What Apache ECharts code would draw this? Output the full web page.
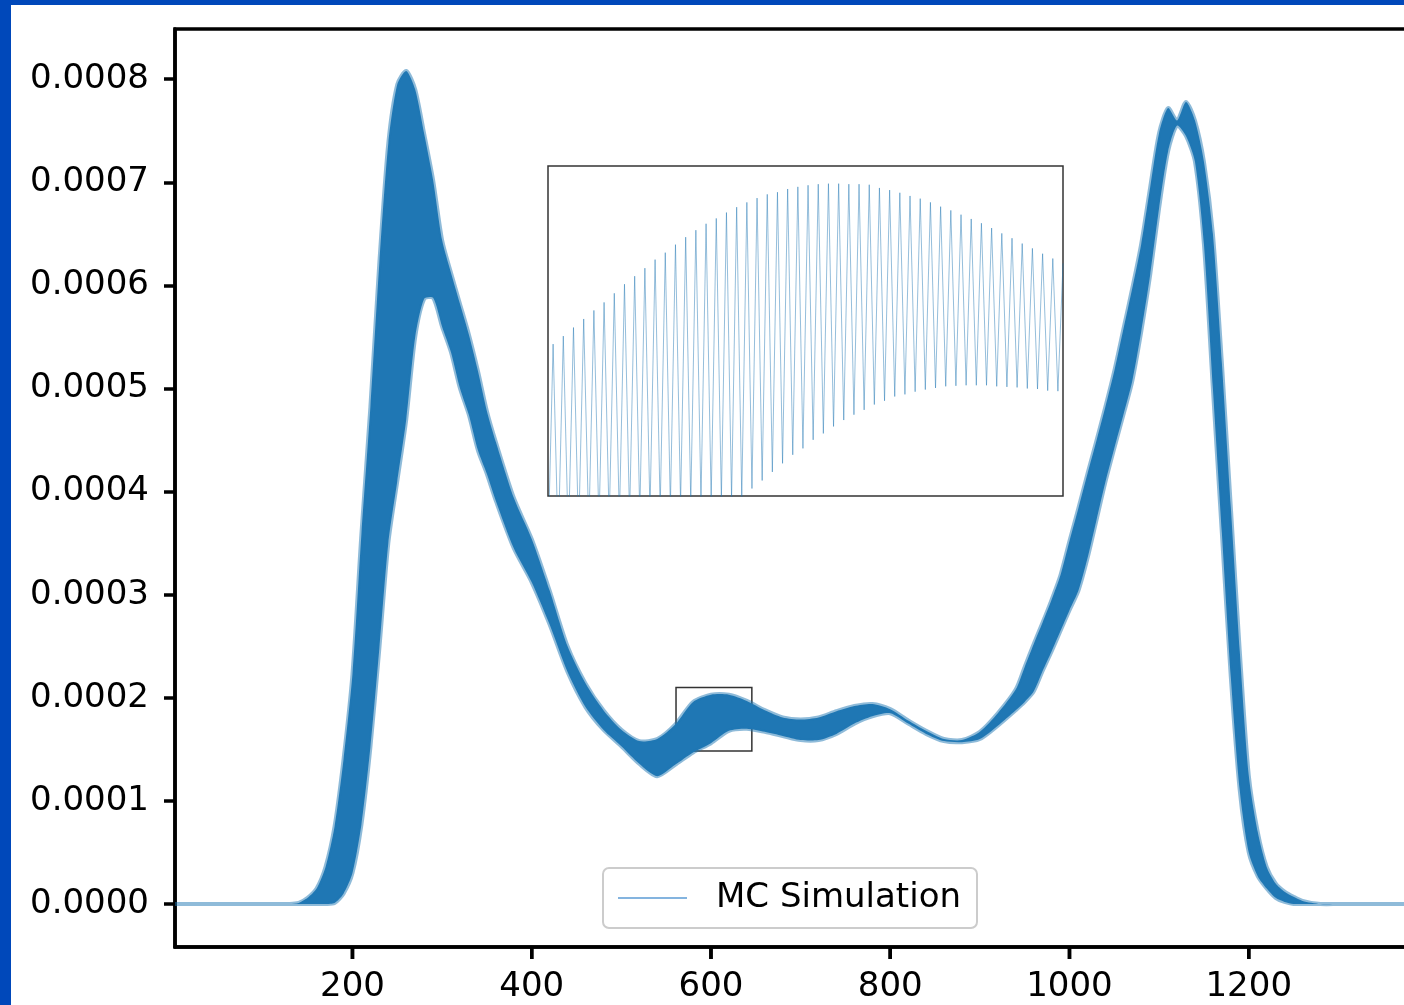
<!DOCTYPE html>
<html>
<head>
<meta charset="utf-8">
<title>MC Simulation</title>
<script src="https://cdn.jsdelivr.net/npm/echarts@6/dist/echarts.min.js"></script>
<style>
	html, body {margin: 0; padding: 0; width: 1404px; height: 1005px; overflow: hidden; background: #0048ba;}
	#chart {position: absolute; left: 11px; top: 5px; width: 1417px; height: 1000px; background: #fff;}
</style>
</head>
<body>
<div id="chart"></div>
<script>
// sample positions along x
var xs = [2, 100, 130, 140, 150, 160, 170, 180, 190, 200, 210, 220, 230, 240, 250, 260, 270, 280, 290, 300,
	310, 320, 330, 340, 350, 360, 380, 400, 420, 440, 460, 480, 500, 520, 540, 560, 580, 600, 620, 640,
	660, 680, 700, 720, 740, 760, 780, 800, 820, 840, 860, 880, 900, 920, 940, 950, 960, 970, 980, 990,
	1000, 1010, 1020, 1030, 1040, 1050, 1060, 1070, 1080, 1090, 1100, 1110, 1120, 1130, 1140, 1150, 1160, 1170, 1180, 1190,
	1200, 1210, 1220, 1230, 1240, 1250, 1260, 1280, 1300, 1400];
// upper / lower edge of the oscillating MC curve (units of 1e-4)
var upper = [0, 0, 0, 0.01, 0.06, 0.15, 0.36, 0.75, 1.40, 2.23, 3.59, 4.82, 6.22, 7.38, 7.95, 8.08, 7.90, 7.47, 7.02, 6.44,
	6.12, 5.82, 5.52, 5.17, 4.78, 4.48, 3.94, 3.54, 3.04, 2.50, 2.14, 1.88, 1.69, 1.58, 1.60, 1.74, 1.96, 2.03, 2.03, 1.97,
	1.88, 1.81, 1.79, 1.81, 1.87, 1.92, 1.94, 1.89, 1.78, 1.68, 1.60, 1.59, 1.67, 1.85, 2.08, 2.30, 2.52, 2.73, 2.95, 3.19,
	3.52, 3.84, 4.17, 4.49, 4.82, 5.17, 5.57, 5.97, 6.40, 6.95, 7.48, 7.72, 7.60, 7.78, 7.60, 7.20, 6.50, 5.25, 3.85, 2.45,
	1.25, 0.70, 0.36, 0.20, 0.12, 0.07, 0.03, 0, 0, 0];
var lower = [0, 0, 0, 0, 0, 0, 0, 0.01, 0.10, 0.30, 0.77, 1.52, 2.48, 3.50, 4.10, 4.70, 5.50, 5.87, 5.88, 5.60,
	5.35, 5.00, 4.74, 4.40, 4.17, 3.91, 3.45, 3.12, 2.71, 2.25, 1.91, 1.69, 1.53, 1.36, 1.24, 1.35, 1.47, 1.56, 1.68, 1.70,
	1.67, 1.63, 1.59, 1.59, 1.65, 1.75, 1.82, 1.85, 1.75, 1.65, 1.58, 1.57, 1.60, 1.73, 1.88, 1.96, 2.06, 2.26, 2.45, 2.65,
	2.85, 3.04, 3.35, 3.72, 4.09, 4.42, 4.74, 5.07, 5.55, 6.10, 6.75, 7.30, 7.55, 7.45, 7.20, 6.40, 5.00, 3.60, 2.20, 1.10,
	0.50, 0.27, 0.15, 0.06, 0.02, 0, 0, 0, 0, 0];

// zoomed region (x range, y range in 1e-4)
var zoomX = [561, 645.6];
var zoomY = [1.484, 2.101];
// the zig-zag inside that region, alternating trough / peak
var insetVals = [1.38,
	1.768, 1.390, 1.783, 1.400, 1.799, 1.410, 1.815, 1.420, 1.831, 1.430, 1.846, 1.435, 1.863, 1.440, 1.880, 1.445,
	1.895, 1.450, 1.910, 1.455, 1.926, 1.460, 1.939, 1.465, 1.954, 1.470, 1.968, 1.472, 1.981, 1.474, 1.993, 1.476,
	2.003, 1.478, 2.014, 1.480, 2.024, 1.482, 2.033, 1.498, 2.041, 1.513, 2.048, 1.529, 2.052, 1.545, 2.058, 1.561,
	2.062, 1.573, 2.065, 1.589, 2.067, 1.601, 2.068, 1.614, 2.068, 1.626, 2.067, 1.636, 2.067, 1.645, 2.066, 1.655,
	2.060, 1.662, 2.056, 1.670, 2.051, 1.674, 2.045, 1.679, 2.040, 1.683, 2.033, 1.686, 2.025, 1.689, 2.018, 1.690,
	2.010, 1.691, 2.002, 1.691, 1.994, 1.691, 1.985, 1.689, 1.975, 1.688, 1.966, 1.687, 1.956, 1.685, 1.947, 1.684,
	1.937, 1.681, 1.928, 1.680, 1.919];

var yTicks = [0, 1, 2, 3, 4, 5, 6, 7, 8];
var xTicks = [200, 400, 600, 800, 1000, 1200];
var yMin = -0.417, yMax = 8.487;

var font = 'DejaVu Sans';
var blue = '#1f77b4';

var insetCats = insetVals.map(function(v, i){ return String(i); });

// band between upper and lower edge, drawn as one polygon through the axes
function renderBand(params, api){
	var pts = [], i;
	for (i = 0; i < xs.length; i++) pts.push(api.coord([xs[i], upper[i]]));
	for (i = xs.length - 1; i >= 0; i--) pts.push(api.coord([xs[i], lower[i]]));
	return {
		type: 'polygon',
		shape: {points: pts, smooth: 0.25},
		style: {fill: blue, stroke: 'rgba(31,119,180,0.5)', lineWidth: 4}
	};
}

var e = echarts.init(document.getElementById('chart'));
var u = {
	animation: false,
	grid: [{
		left: 164, top: 24, right: 0, bottom: 58,
		show: true, borderColor: '#000', borderWidth: 3.5, backgroundColor: '#fff'
	}, {
		left: 537, top: 161, width: 515, height: 330,
		show: true, borderColor: '#333', borderWidth: 1.5, backgroundColor: '#fff', z: 5
	}],
	legend: {
		left: 592, top: 863,
		data: [{name: 'MC Simulation', icon: 'rect', itemStyle: {color: '#5b9bd5'}}],
		itemWidth: 69, itemHeight: 1.5,
		padding: [12, 16, 12, 15],
		borderColor: '#cccccc', borderWidth: 2, borderRadius: 6,
		backgroundColor: '#fff',
		textStyle: {fontFamily: font, fontSize: 34, color: '#000', lineHeight: 36, padding: [0, 0, 0, 24]}
	},
	xAxis: [{
		type: 'value', gridIndex: 0, min: 2, max: 1400, position: 'bottom',
		splitLine: {show: false},
		axisLine: {show: true, onZero: false, lineStyle: {color: '#000', width: 3.5}},
		axisTick: {show: false},
		axisLabel: {
			margin: 0, customValues: xTicks,
			// tick mark drawn as the first line of the label, number under it
			formatter: function(v){ return '{t| }\n{n|' + v + '}'; },
			rich: {
				t: {width: 3.5, height: 12, backgroundColor: '#000', lineHeight: 12, fontSize: 1},
				n: {fontFamily: font, fontSize: 34, color: '#000', lineHeight: 56}
			}
		}
	}, {
		type: 'category', gridIndex: 1, data: insetCats, boundaryGap: false, show: false
	}],
	yAxis: [{
		type: 'value', gridIndex: 0, min: yMin, max: yMax,
		splitLine: {show: false},
		axisLine: {show: true, onZero: false, lineStyle: {color: '#000', width: 3.5}},
		axisTick: {show: true, inside: false, length: 11, lineStyle: {color: '#000', width: 3.5}, customValues: yTicks},
		axisLabel: {
			color: '#000', fontFamily: font, fontSize: 34, margin: 26, customValues: yTicks,
			formatter: function(v){ return (v / 10000).toFixed(4); }
		}
	}, {
		type: 'value', gridIndex: 1, min: zoomY[0], max: zoomY[1], show: false
	}],
	series: [{
		name: 'MC Simulation', type: 'custom', xAxisIndex: 0, yAxisIndex: 0,
		silent: true, clip: true,
		itemStyle: {color: blue},
		renderItem: renderBand,
		data: [[xs[0], upper[0]]],
		markArea: {
			silent: true,
			itemStyle: {color: 'rgba(0,0,0,0)', borderColor: '#333', borderWidth: 1.5},
			data: [[{coord: [zoomX[0], zoomY[1]]}, {coord: [zoomX[1], zoomY[0]]}]]
		}
	}, {
		name: 'inset', type: 'line', xAxisIndex: 1, yAxisIndex: 1, z: 6,
		symbol: 'none', silent: true,
		lineStyle: {color: blue, width: 0.8, opacity: 0.6},
		data: insetVals
	}]
};
e.setOption(u);

// outward x tick marks, placed with the chart's own x scale
try {
	var tickMarks = xTicks.map(function(v){
		var p = e.convertToPixel({xAxisIndex: 0, yAxisIndex: 0}, [v, yMin]);
		return {
			type: 'rect', z: 100, silent: true,
			shape: {x: p[0] - 1.75, y: p[1], width: 3.5, height: 12},
			style: {fill: '#000'}
		};
	});
	e.setOption({graphic: tickMarks});
} catch (err) {}
</script>
</body>
</html>
